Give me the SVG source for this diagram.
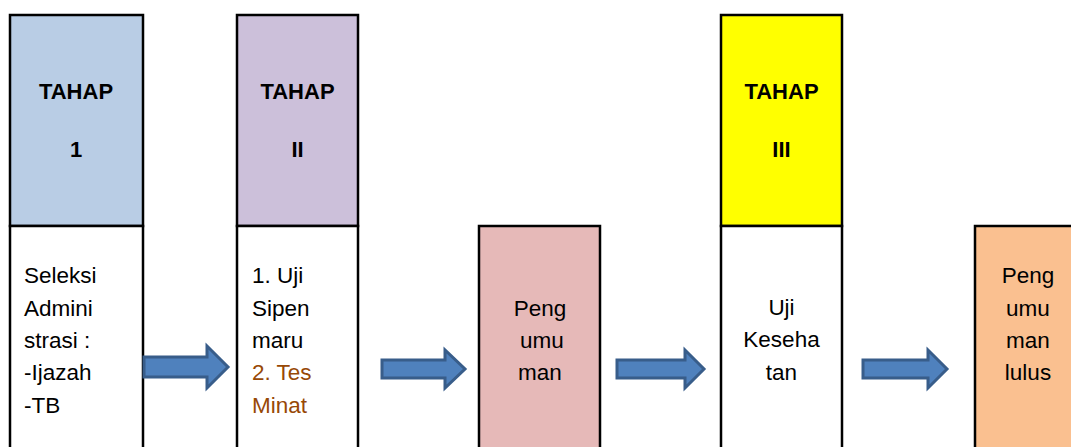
<svg xmlns="http://www.w3.org/2000/svg" width="1071" height="447" viewBox="0 0 1071 447">
<style>
.box{stroke:#000;stroke-width:2.5}
.t{font-family:"Liberation Sans",Arial,sans-serif;font-size:22.5px;fill:#000}
.b{font-weight:bold;font-size:22px;text-anchor:middle}
.m{text-anchor:middle}
.o{fill:#974806}
.arr{fill:#4F81BD;stroke:#385D8A;stroke-width:3}
</style>
<rect width="1071" height="447" fill="#fff"/>
<g id="tahap1">
<rect class="box" x="10" y="15" width="133" height="211" fill="#B9CDE5"/>
<rect class="box" x="10" y="226" width="133" height="240" fill="#fff"/>
<text class="t b" x="76" y="99">TAHAP</text>
<text class="t b" x="76" y="157">1</text>
<text class="t" x="24" y="283">Seleksi</text>
<text class="t" x="24" y="316">Admini</text>
<text class="t" x="24" y="348">strasi :</text>
<text class="t" x="24" y="380">-Ijazah</text>
<text class="t" x="24" y="413">-TB</text>
</g>
<g id="tahap2">
<rect class="box" x="237" y="15" width="121" height="211" fill="#CCC0DA"/>
<rect class="box" x="237" y="226" width="121" height="240" fill="#fff"/>
<text class="t b" x="297.5" y="99">TAHAP</text>
<text class="t b" x="297.5" y="157">II</text>
<text class="t" x="252" y="283">1. Uji</text>
<text class="t" x="252" y="316">Sipen</text>
<text class="t" x="252" y="348">maru</text>
<text class="t o" x="252" y="380">2. Tes</text>
<text class="t o" x="252" y="413">Minat</text>
</g>
<g id="pengumuman1">
<rect class="box" x="479" y="226" width="121" height="240" fill="#E6B9B8"/>
<text class="t m" x="540" y="316">Peng</text>
<text class="t m" x="542" y="348">umu</text>
<text class="t m" x="540" y="380">man</text>
</g>
<g id="tahap3">
<rect class="box" x="721" y="15" width="121" height="211" fill="#FFFF00"/>
<rect class="box" x="721" y="226" width="121" height="240" fill="#fff"/>
<text class="t b" x="781.5" y="99">TAHAP</text>
<text class="t b" x="781.5" y="157">III</text>
<text class="t m" x="781.5" y="315">Uji</text>
<text class="t m" x="781.5" y="347">Keseha</text>
<text class="t m" x="781.5" y="380">tan</text>
</g>
<g id="pengumuman2">
<rect class="box" x="975" y="226" width="121" height="240" fill="#FAC090"/>
<text class="t m" x="1028" y="283">Peng</text>
<text class="t m" x="1028" y="316">umu</text>
<text class="t m" x="1028" y="348">man</text>
<text class="t m" x="1028" y="380">lulus</text>
</g>
<g id="connectors">
<polygon class="arr" points="144,357 207,357 207,346 228,367 207,388 207,377 144,377"/>
<polygon class="arr" points="382,360 445,360 445,350 465,369 445,388 445,378 382,378"/>
<polygon class="arr" points="617,360 685,360 685,350 704,369 685,388 685,378 617,378"/>
<polygon class="arr" points="863,360 928,360 928,350 947,369 928,388 928,378 863,378"/>
</g>
</svg>
